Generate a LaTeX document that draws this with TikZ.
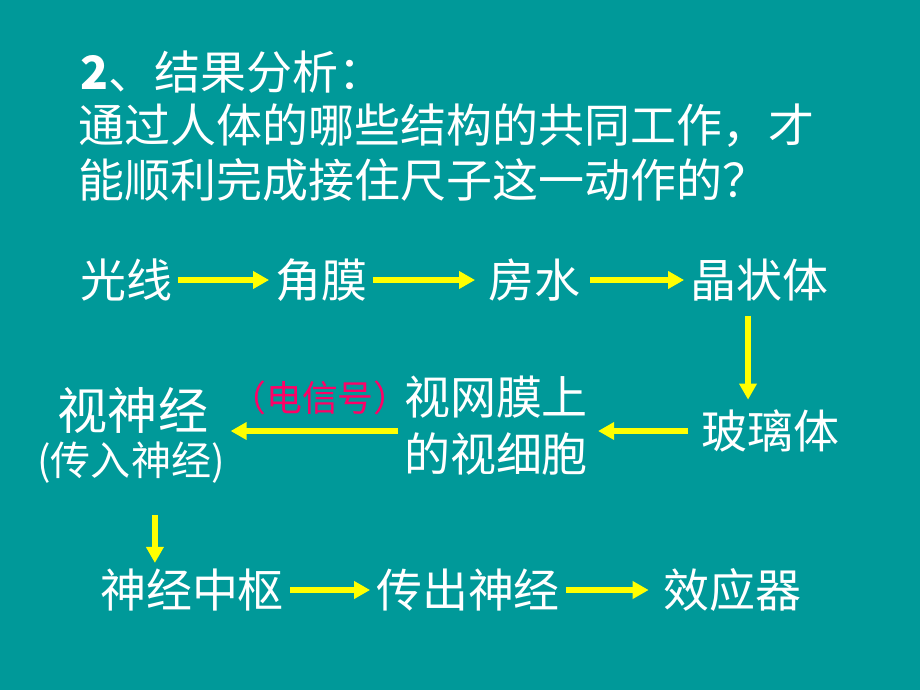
\documentclass[tikz,border=0pt]{standalone}
\usepackage{fontspec}
\setmainfont{Noto Sans CJK SC}
\usetikzlibrary{arrows.meta}
\definecolor{slidebg}{RGB}{0,153,153}
\definecolor{signalred}{RGB}{255,0,102}
\definecolor{arrowyellow}{RGB}{255,255,0}
\begin{document}
\begin{tikzpicture}
[x=0.025cm,y=-0.025cm,
  titledecorate/.style={anchor=west,inner sep=0pt,text=white,font=\fontsize{32.7}{38}\selectfont},%
  partdecorate/.style={inner sep=4pt,text=white,font=\fontsize{32.7}{40.5}\selectfont,align=center},%
  linedecorate/.style={draw=arrowyellow,line width=4.3pt,-{Triangle[length=11.4pt,width=12pt]},arrowyellow}]
\fill [slidebg] (0,0) rectangle (920,690);
%% question
\node (t1) at (80,72) [titledecorate] {\textbf{2}、结果分析：};
\node (t2) at (78,126) [titledecorate] {通过人体的哪些结构的共同工作，才};
\node (t3) at (78,180) [titledecorate] {能顺利完成接住尺子这一动作的？};
%% parts of the pathway
\foreach \nodename/\x/\y/\word in {
  gx/126/280/光线, jm/321/280/角膜,
  fs/534/280/房水, jzt/759/280/晶状体,
  blt/770/431/玻璃体, swm/496/426/视网膜上\\的视细胞,
  sjzs/192/590/神经中枢, ccsj/468/590/传出神经,
  xyq/732/590/效应器}
{
  \node (\nodename) at (\x,\y) [partdecorate] {\word};
}
\node (ssj) at (133,410) [partdecorate,font=\fontsize{35.6}{40}\selectfont] {视神经};
\node (crsj) at (131,463) [partdecorate,font=\fontsize{28.5}{32}\selectfont] {(传入神经)};
\node (dxh) at (320,398) [inner sep=0pt,text=signalred,font=\fontsize{25.5}{28}\selectfont] {（电信号）};
%% arrows
\draw [linedecorate] (gx) -- (jm);
\draw [linedecorate,shorten >=5pt] (jm) -- (fs);
\draw [linedecorate,shorten <=3pt] (fs) -- (jzt);
\draw [linedecorate,shorten <=6pt,shorten >=3pt] ([xshift=-7.8pt]jzt.south) -- ([xshift=-7.8pt]jzt.south |- blt.north);
\draw [linedecorate,shorten <=5pt,shorten >=3pt] (blt.west) -- (swm.east |- blt.west);
\draw [linedecorate] (swm.west |- blt.west) -- (crsj.east |- blt.west);
\draw [linedecorate,shorten <=18pt] ([xshift=17pt]crsj.south) -- ([xshift=17pt]crsj.south |- sjzs.north);
\draw [linedecorate] (sjzs) -- (ccsj);
\draw [linedecorate,shorten >=6pt] (ccsj) -- (xyq);
\end{tikzpicture}
\end{document}
